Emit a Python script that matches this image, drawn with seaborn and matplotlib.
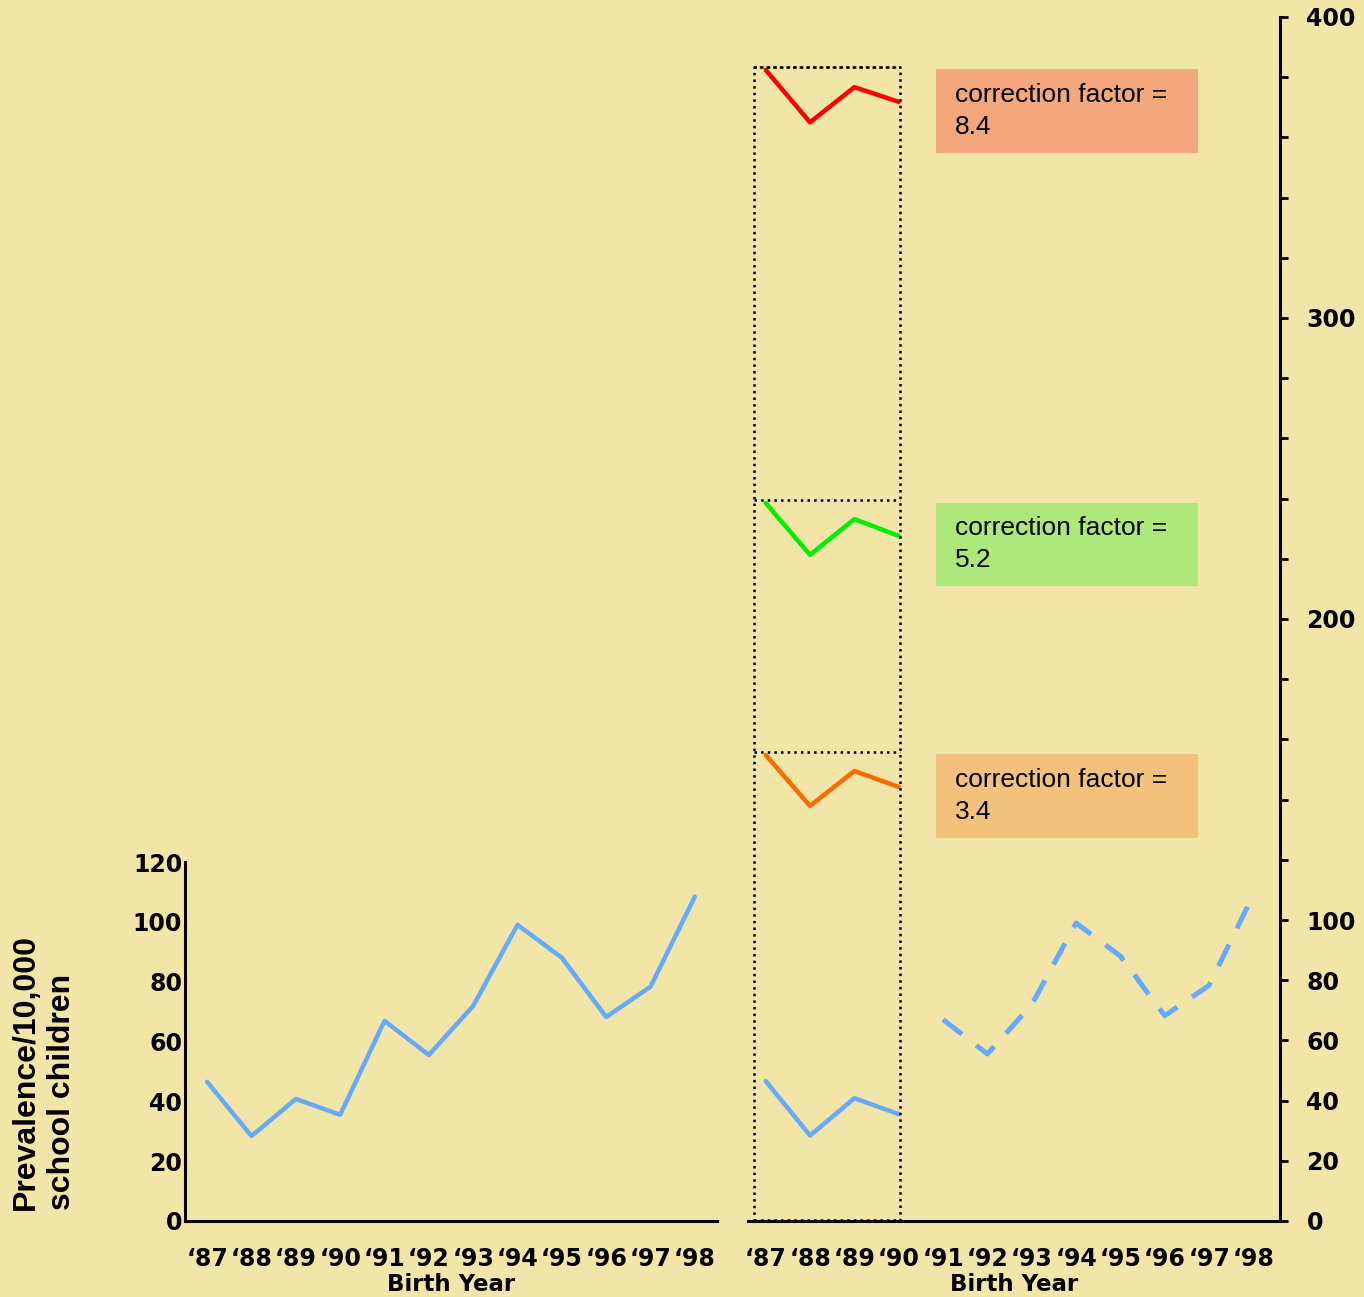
import numpy as np
import pandas as pd
import matplotlib
matplotlib.use("Agg")
import matplotlib.pyplot as plt
import seaborn as sns
from matplotlib.patches import Rectangle

years=["‘87","‘88","‘89","‘90","‘91","‘92","‘93","‘94","‘95","‘96","‘97","‘98"]
prevalence=[46.5,28.4,40.8,35.5,66.9,55.5,71.9,99.0,88.0,68.2,78.3,108.4]

# corrected prevalence for the first four birth years
corr_34=[154.8,137.9,149.5,144.2]
corr_52=[238.5,221.3,233.2,227.6]
corr_84=[382.4,365.0,376.7,371.8]
factor_labels=["3.4","5.2","8.4"]

right_ticks_labelled=[0,20,40,60,80,100,200,300,400]

bg="#F1E5A7"
blue="#66AAFF"

sns.set_style("white")
plt.rcParams["font.family"]=["DejaVu Sans"]
plt.rcParams["text.color"]="black"
plt.rcParams["xtick.color"]="black"
plt.rcParams["ytick.color"]="black"
plt.rcParams["axes.labelcolor"]="black"

W,H=1364,1297
fig=plt.figure(figsize=(W/100,H/100),dpi=100,facecolor=bg)

def fr(x0,y0,x1,y1):
    return [x0/W,1-y1/H,(x1-x0)/W,(y1-y0)/H]

axL=fig.add_axes(fr(185,862,717,1221))
axR=fig.add_axes(fr(748,17,1280,1221))

x=np.arange(len(years))
df=pd.DataFrame({"year":x,"prev":prevalence})

# left panel
sns.lineplot(data=df,x="year",y="prev",ax=axL,color=blue,lw=3.2)
axL.set_xlim(-0.5,11.5)
axL.set_ylim(0,120)
axL.set_yticks(range(0,121,20))

# right panel
early=df.iloc[:4]
late=df.iloc[4:]
sns.lineplot(data=early,x="year",y="prev",ax=axR,color=blue,lw=3.2)
sns.lineplot(data=late,x="year",y="prev",ax=axR,color=blue,lw=3.6,
             linestyle=(0,(4.8,3.6)))

series=[(corr_34,"#FF6A00","#F2C27D"),
        (corr_52,"#00EE00","#ADE97A"),
        (corr_84,"#FF0000","#F4A77A")]
box_l,box_r=-0.265,3.03
for (vals,lc,fc),lab in zip(series,factor_labels):
    sns.lineplot(x=x[:4],y=vals,ax=axR,color=lc,lw=3.2)
    top=max(vals)+1
    axR.plot([box_l,box_r],[top,top],color="black",ls=":",lw=1.8)
    # label box
    axR.add_patch(Rectangle((3.84,top-28.6),5.92,27.8,facecolor=fc,
                            edgecolor="none",zorder=1))
    axR.text(4.27,top-14.5,"correction factor =\n"+lab,ha="left",va="center",
             fontsize=19,family="Liberation Sans",linespacing=1.42,zorder=2)

top_all=max(corr_84)+1
axR.plot([box_l,box_l,box_r,box_r],[0,top_all,top_all,0],color="black",ls=":",lw=1.8)
axR.plot([box_l,box_r],[0.3,0.3],color="black",ls=":",lw=1.8)

axR.set_xlim(-0.4,11.6)
axR.set_ylim(0,400)
axR.yaxis.tick_right()
axR.set_yticks(range(0,401,20))
axR.set_yticklabels([str(v) if v in right_ticks_labelled else "" for v in range(0,401,20)])

for ax in (axL,axR):
    ax.set_facecolor(bg)
    for s in ax.spines.values():
        s.set_color("black")
        s.set_linewidth(2.2)
    ax.spines["top"].set_visible(False)
    ax.set_xticks(x)
    ax.set_xticklabels(years)
    ax.tick_params(axis="x",which="major",length=0,pad=19,labelsize=17)
    ax.set_xlabel("Birth Year",fontsize=16.5,fontweight="bold",labelpad=1)
    ax.set_ylabel("")
    for t in ax.get_xticklabels()+ax.get_yticklabels():
        t.set_fontweight("bold")

axL.spines["right"].set_visible(False)
axL.set_xticks(np.arange(-0.5,11,1),minor=True)
axL.tick_params(axis="x",which="minor",length=5,width=2,direction="out")
axL.tick_params(axis="y",length=4,width=2,pad=-2,labelsize=17)

axR.spines["left"].set_visible(False)
axR.set_xticks(np.arange(0.5,12,1),minor=True)
axR.tick_params(axis="x",which="minor",length=5,width=2,direction="out")
axR.tick_params(axis="y",length=6,width=2,pad=13,labelsize=17)

fig.text(44/W,1-1072/H,"Prevalence/10,000\nschool children",rotation=90,
         ha="center",va="center",multialignment="left",fontsize=23,
         fontweight="bold",family="Liberation Sans",linespacing=1.3)

fig.savefig("out.png",dpi=100,facecolor=bg)
